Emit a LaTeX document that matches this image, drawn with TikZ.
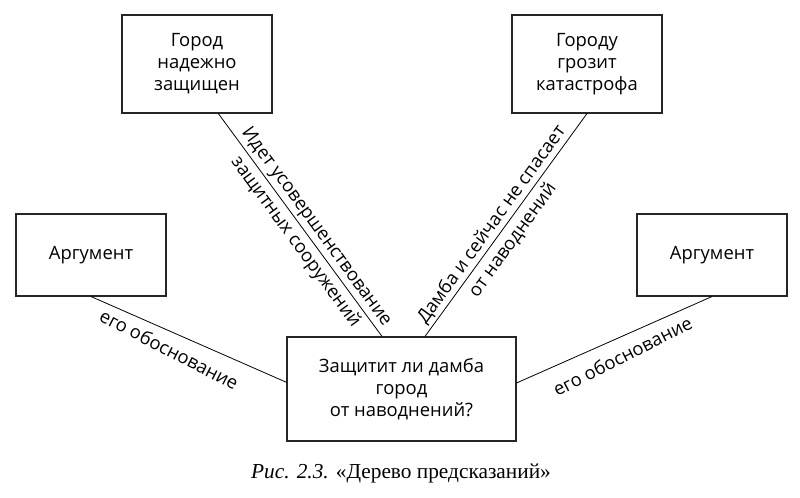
\documentclass[tikz,border=0pt]{standalone}
\usepackage{fontspec}
\setmainfont{Open Sans}
\newfontfamily\capfont{Liberation Serif}
\tikzset{
  boxnode/.style={draw=black!85, line width=0.8pt, align=center, inner sep=0pt,
    font=\fontsize{13.8}{16.5}\selectfont},
  linklabel/.style={align=center, inner sep=2pt,
    font=\fontsize{13.8}{19.5}\selectfont}
}
\begin{document}
\begin{tikzpicture}[x=0.75pt,y=0.75pt,yscale=-1,xscale=1]
        \useasboundingbox (0,0) rectangle (800,498);
        
        %Shape: Rectangle [id:safe] 
        \node [boxnode, minimum width=112.5pt, minimum height=73.5pt] (safe) at (197,64) {Город\\надежно\\защищен};
        %Shape: Rectangle [id:threat] 
        \node [boxnode, minimum width=112.5pt, minimum height=73.5pt] (threat) at (587,64) {Городу\\грозит\\катастрофа};
        %Shape: Rectangle [id:argleft] 
        \node [boxnode, minimum width=112.5pt, minimum height=61.5pt] (argleft) at (91,255) {Аргумент};
        %Shape: Rectangle [id:argright] 
        \node [boxnode, minimum width=112.5pt, minimum height=61.5pt] (argright) at (712,255) {Аргумент};
        %Shape: Rectangle [id:question] 
        \node [boxnode, minimum width=171.75pt, minimum height=78pt] (question) at (401.5,389) {Защитит ли дамба\\город\\от наводнений?};
        
        %Straight Lines [id:safeline] 
        \draw [line width=0.6pt]  ([xshift=16pt]safe.south) -- node[linklabel, pos=0.54, rotate=-53.8, yshift=-1pt] {Идет усовершенствование\\защитных сооружений} ([xshift=-14.6pt]question.north) ;
        %Straight Lines [id:threatline] 
        \draw [line width=0.6pt]  ([xshift=17.6pt]question.north) -- node[linklabel, pos=0.47, rotate=54.1, yshift=-1pt] {Дамба и сейчас не спасает\\от наводнений} (threat.south) ;
        %Straight Lines [id:leftline] 
        \draw [line width=0.6pt]  (argleft.south) -- node[linklabel, pos=0.44, rotate=-27.3, anchor=north, inner sep=7pt] {его обоснование} ([yshift=-5pt]question.west) ;
        %Straight Lines [id:rightline] 
        \draw [line width=0.6pt]  ([yshift=-4.5pt]question.east) -- node[linklabel, pos=0.5, rotate=26.9, anchor=north, inner sep=8pt] {его обоснование} (argright.south) ;
        
        %Text Node [id:caption] 
        \node [font=\capfont\fontsize{16}{18}\selectfont] (caption) at (401,473) {\textit{Рис. 2.3.} «Дерево предсказаний»};
    \end{tikzpicture}
\end{document}
